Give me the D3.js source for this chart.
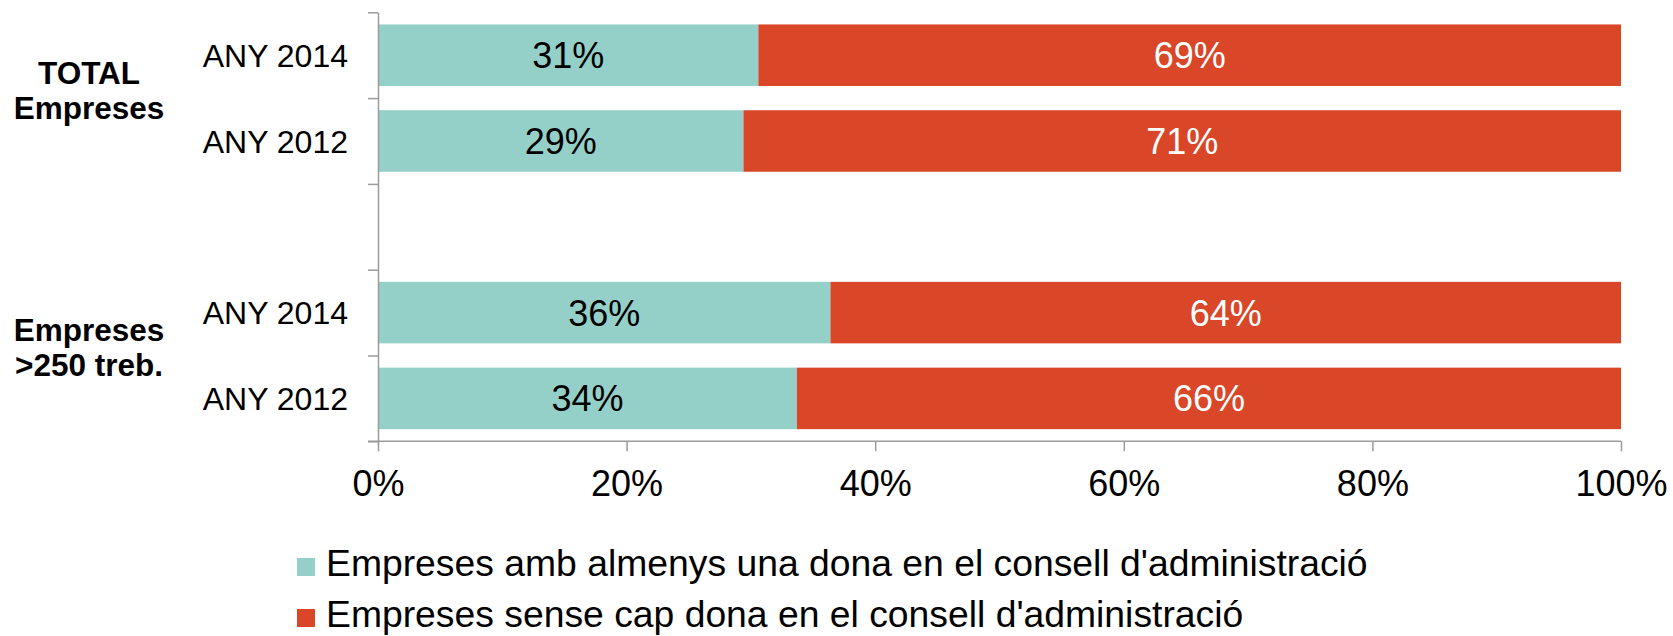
<!DOCTYPE html>
<meta charset="utf-8">
<script src="https://d3js.org/d3.v7.min.js"></script>
<style>
    body { margin: 0; background: white; }
    text { font-family: "Liberation Sans", Arial, sans-serif; }
</style>
<div id="chart"></div>
<script>
    // data
    var rowKeys = ["t2014", "t2012", "gap", "e2014", "e2012"];
    var rowLabels = ["ANY 2014", "ANY 2012", "", "ANY 2014", "ANY 2012"];
    var groupLabels = [["TOTAL", "Empreses"], ["Empreses", ">250 treb."]];
    var groupRows = [["t2014", "t2012"], ["e2014", "e2012"]];
    var barRows = ["t2014", "t2012", "e2014", "e2012"];
    var withWoman = [30.6, 29.4, 36.4, 33.7];
    var withoutWoman = [69.4, 70.6, 63.6, 66.3];
    var xTicks = [0, 20, 40, 60, 80, 100];
    var seriesNames = ["Empreses amb almenys una dona en el consell d'administració",
                       "Empreses sense cap dona en el consell d'administració"];
    var colors = ["#94D0C8", "#D94628"];

    var W = 1673, H = 636;
    var svg = d3.select("#chart").append("svg")
        .attr("width", W).attr("height", H);

    var x = d3.scaleLinear().domain([0, 100]).range([378, 1621]);
    var y = d3.scaleBand().domain(rowKeys).range([12.3, 441.3])
        .paddingInner(0.283).paddingOuter(0.1415);
    var yEdge = d3.scaleLinear().domain([0, rowKeys.length]).range([12.3, 441.3]);

    // bars
    var rows = barRows.map(function (k, i) {
        return {key: k, a: withWoman[i], b: withoutWoman[i]};
    });
    var g = svg.append("g");
    g.selectAll(".a").data(rows).enter().append("rect")
        .attr("x", x(0))
        .attr("y", function (d) { return y(d.key); })
        .attr("width", function (d) { return x(d.a) - x(0); })
        .attr("height", y.bandwidth())
        .attr("fill", colors[0]);
    g.selectAll(".b").data(rows).enter().append("rect")
        .attr("x", function (d) { return x(d.a); })
        .attr("y", function (d) { return y(d.key); })
        .attr("width", function (d) { return x(d.a + d.b) - x(d.a); })
        .attr("height", y.bandwidth())
        .attr("fill", colors[1]);

    // value labels
    g.selectAll(".la").data(rows).enter().append("text")
        .attr("x", function (d) { return x(d.a / 2); })
        .attr("y", function (d) { return y(d.key) + y.bandwidth() / 2; })
        .attr("dy", "0.36em")
        .attr("text-anchor", "middle")
        .style("font-size", "36px").attr("fill", "#000")
        .text(function (d) { return Math.round(d.a) + "%"; });
    g.selectAll(".lb").data(rows).enter().append("text")
        .attr("x", function (d) { return x(d.a + d.b / 2); })
        .attr("y", function (d) { return y(d.key) + y.bandwidth() / 2; })
        .attr("dy", "0.36em")
        .attr("text-anchor", "middle")
        .style("font-size", "36px").attr("fill", "#fff")
        .text(function (d) { return Math.round(d.b) + "%"; });

    // x axis
    var xAxis = svg.append("g")
        .attr("transform", "translate(0,441.3)")
        .call(d3.axisBottom(x).tickValues(xTicks).tickSize(10).tickSizeOuter(0)
            .tickFormat(function (d) { return d + "%"; }));
    xAxis.select(".domain").attr("d", "M368,0H" + x(100));
    xAxis.selectAll("text").style("font-size", "36px").attr("fill", "#000")
        .attr("y", 0).attr("dy", "55px")
        .style("font-family", "'Liberation Sans', Arial, sans-serif");

    // y axis, ticks on band edges
    var yAxis = svg.append("g")
        .attr("transform", "translate(378,0)")
        .call(d3.axisLeft(yEdge).tickValues(d3.range(rowKeys.length + 1))
            .tickSize(10).tickSizeOuter(0).tickFormat(""));

    svg.selectAll(".domain, .tick line")
        .attr("stroke", "#9B9B9B").attr("stroke-width", 1.5);

    // row labels
    svg.append("g").selectAll("text").data(rowKeys).enter().append("text")
        .attr("x", 348)
        .attr("y", function (d) { return y(d) + y.bandwidth() / 2; })
        .attr("dy", "0.36em")
        .attr("text-anchor", "end")
        .style("font-size", "32px")
        .text(function (d, i) { return rowLabels[i]; });

    // group labels
    groupLabels.forEach(function (lines, i) {
        var r = groupRows[i];
        var cy = (y(r[0]) + y(r[1]) + y.bandwidth()) / 2 - 8;
        var t = svg.append("text")
            .attr("x", 89)
            .attr("y", cy)
            .attr("text-anchor", "middle")
            .style("font-size", "31.5px").style("font-weight", "bold");
        lines.forEach(function (s, j) {
            t.append("tspan").attr("x", 89)
                .attr("dy", j === 0 ? "-0.2em" : "1.12em")
                .text(s);
        });
    });

    // legend
    var legend = svg.append("g").selectAll("g").data(seriesNames).enter().append("g")
        .attr("transform", function (d, i) { return "translate(297," + (558 + i * 51) + ")"; });
    legend.append("rect")
        .attr("width", 18).attr("height", 18)
        .attr("fill", function (d, i) { return colors[i]; });
    legend.append("text")
        .attr("x", 29).attr("y", 18)
        .style("font-size", "37.3px")
        .text(function (d) { return d; });
</script>
